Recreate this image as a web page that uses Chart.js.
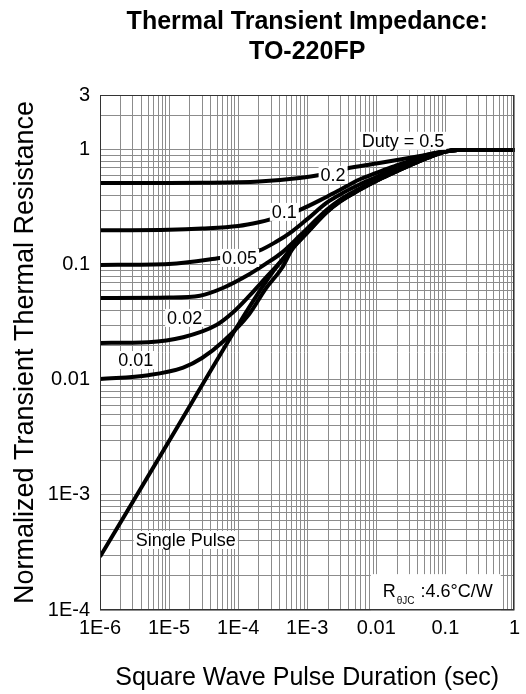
<!DOCTYPE html>
<html>
<head>
<meta charset="utf-8">
<title>Thermal Transient Impedance: TO-220FP</title>
<script src="https://cdn.jsdelivr.net/npm/chart.js@4/dist/chart.umd.min.js"></script>
<style>
  html, body { margin: 0; padding: 0; background: #fff; }
  canvas { display: block; }
</style>
</head>
<body>
<canvas id="zth" width="526" height="694"></canvas>
<script>
// Normalized transient thermal resistance vs square-wave pulse duration (log-log)

// Tick labels on each axis
const xTickValues = [1e-6, 1e-5, 1e-4, 1e-3, 1e-2, 1e-1, 1];
const xTickLabels = ['1E-6', '1E-5', '1E-4', '1E-3', '0.01', '0.1', '1'];
const yTickValues = [1e-4, 1e-3, 1e-2, 1e-1, 1, 3];
const yTickLabels = ['1E-4', '1E-3', '0.01', '0.1', '1', '3'];

// Curves: pulse duration (sec) and normalized Zth for each duty cycle
const singleT = [1e-6, 1e-5, 1e-4, 2e-4, 3e-4, 4.5e-4, 6e-4, 1e-3, 1.9e-3, 3e-3, 5.6e-3, 1e-2, 1.7e-2, 3e-2, 5e-2, 0.1, 0.15, 1];
const singleZ = [2.9e-4, 2.95e-3, 0.03, 0.058, 0.083, 0.113, 0.138, 0.19, 0.285, 0.355, 0.445, 0.537, 0.625, 0.73, 0.83, 0.965, 1.0, 1.0];

const duty001T = [1e-6, 5e-6, 1.6e-5, 3e-5, 6e-5, 1.45e-4, 2.5e-4, 4.3e-4, 6e-4, 1e-3, 1.9e-3, 3e-3, 5.6e-3, 1e-2, 1.7e-2, 3e-2, 5e-2, 0.1, 0.15, 1];
const duty001Z = [0.0102, 0.011, 0.0128, 0.0155, 0.0215, 0.0375, 0.062, 0.094, 0.135, 0.192, 0.287, 0.358, 0.447, 0.539, 0.627, 0.73, 0.832, 0.965, 1.0, 1.0];

const duty002T = [1e-6, 5e-6, 1.6e-5, 4.85e-5, 8.3e-5, 1.45e-4, 2.5e-4, 4.3e-4, 6e-4, 1e-3, 1.9e-3, 3e-3, 5.6e-3, 1e-2, 1.7e-2, 3e-2, 5e-2, 0.1, 0.15, 1];
const duty002Z = [0.021, 0.0213, 0.0235, 0.030, 0.0383, 0.0537, 0.077, 0.110, 0.143, 0.197, 0.29, 0.36, 0.45, 0.54, 0.63, 0.732, 0.835, 0.966, 1.0, 1.0];

const duty005T = [1e-6, 1e-5, 2.8e-5, 6e-5, 1.45e-4, 2.5e-4, 4.3e-4, 8e-4, 1.9e-3, 3e-3, 5.6e-3, 1e-2, 1.7e-2, 3e-2, 5e-2, 0.1, 0.15, 1];
const duty005Z = [0.0516, 0.052, 0.054, 0.063, 0.083, 0.102, 0.128, 0.182, 0.3, 0.37, 0.458, 0.548, 0.637, 0.74, 0.84, 0.968, 1.0, 1.0];

const duty01T = [1e-6, 1e-5, 5.4e-5, 1e-4, 2e-4, 3.5e-4, 6e-4, 1e-3, 1.9e-3, 3e-3, 5.6e-3, 1e-2, 1.7e-2, 3e-2, 5e-2, 0.1, 0.15, 1];
const duty01Z = [0.1, 0.102, 0.115, 0.122, 0.133, 0.158, 0.195, 0.25, 0.346, 0.41, 0.497, 0.58, 0.67, 0.76, 0.865, 0.97, 1.0, 1.0];

const duty02T = [1e-6, 1e-5, 3e-5, 1e-4, 2e-4, 3e-4, 7.7e-4, 1.9e-3, 3e-3, 5.6e-3, 1e-2, 1.7e-2, 3e-2, 5.2e-2, 0.1, 0.15, 1];
const duty02Z = [0.2, 0.202, 0.207, 0.218, 0.235, 0.25, 0.3, 0.39, 0.45, 0.55, 0.63, 0.71, 0.8, 0.9, 0.975, 1.0, 1.0];

const duty05T = [1e-6, 1e-5, 3e-5, 1e-4, 2e-4, 7.7e-4, 1.5e-3, 3.7e-3, 1e-2, 2.1e-2, 5e-2, 0.1, 0.15, 1];
const duty05Z = [0.515, 0.516, 0.518, 0.522, 0.53, 0.57, 0.605, 0.69, 0.76, 0.82, 0.9, 0.975, 1.0, 1.0];

// In-plot curve labels, anchored in data units (sec, normalized Zth)
const curveLabels = [
  { text: 'Duty = 0.5', t: 0.0243, z: 1.2 },
  { text: '0.2', t: 2.37e-3, z: 0.607 },
  { text: '0.1', t: 4.66e-4, z: 0.289 },
  { text: '0.05', t: 1.05e-4, z: 0.115 },
  { text: '0.02', t: 1.68e-5, z: 0.0346 },
  { text: '0.01', t: 3.3e-6, z: 0.0149 },
  { text: 'Single Pulse', t: 1.74e-5, z: 4.06e-4 }
];
// Junction-to-case resistance note
const rthNote = { main: 'R', sub: '\u03B8JC', rest: ' :4.6\u00B0C/W', t: 0.0776, z: 1.43e-4 };

const FONT = '"Liberation Sans", Arial, Helvetica, sans-serif';
Chart.defaults.font.family = FONT;
Chart.defaults.color = '#000';

function toPoints(ts, zs) { return ts.map((t, i) => ({ x: t, y: zs[i] })); }

// Grid lines at 1..9 of every decade
function decadeGrid(minExp, maxExp, extra) {
  const v = [];
  for (let e = minExp; e < maxExp; e++) {
    for (let m = 1; m <= 9; m++) v.push(m * Math.pow(10, e));
  }
  return v.concat(extra);
}
function labelFor(values, labels, v) {
  for (let i = 0; i < values.length; i++) {
    if (Math.abs(Math.log10(v) - Math.log10(values[i])) < 1e-6) return labels[i];
  }
  return '';
}

const series = [
  [singleT, singleZ], [duty001T, duty001Z], [duty002T, duty002Z],
  [duty005T, duty005Z], [duty01T, duty01Z], [duty02T, duty02Z], [duty05T, duty05Z]
];

const labelPlugin = {
  id: 'curveLabelPlugin',
  afterDatasetsDraw(chart) {
    const { ctx, scales: { x, y } } = chart;
    ctx.save();
    ctx.font = '18px ' + FONT;
    ctx.textAlign = 'center';
    ctx.textBaseline = 'middle';
    curveLabels.forEach(l => {
      const px = x.getPixelForValue(l.t);
      const py = y.getPixelForValue(l.z);
      const w = ctx.measureText(l.text).width;
      ctx.fillStyle = '#fff';
      ctx.fillRect(px - w / 2 - 2, py - 9, w + 4, 18);
      ctx.fillStyle = '#000';
      ctx.fillText(l.text, px, py + 1);
    });

    // R(theta JC) note with subscript
    const cx = x.getPixelForValue(rthNote.t);
    const cy = y.getPixelForValue(rthNote.z);
    ctx.textAlign = 'left';
    ctx.font = '18px ' + FONT;
    const wMain = ctx.measureText(rthNote.main).width;
    const wRest = ctx.measureText(rthNote.rest).width;
    ctx.font = '10px ' + FONT;
    const wSub = ctx.measureText(rthNote.sub).width;
    const total = wMain + wSub + 2 + wRest;
    const left = cx - total / 2;
    ctx.fillStyle = '#fff';
    ctx.fillRect(left - 12, cy - 18, total + 20, 36);
    ctx.fillStyle = '#000';
    ctx.font = '18px ' + FONT;
    ctx.fillText(rthNote.main, left, cy);
    ctx.font = '10px ' + FONT;
    ctx.fillText(rthNote.sub, left + wMain + 1, cy + 9);
    ctx.font = '18px ' + FONT;
    ctx.fillText(rthNote.rest, left + wMain + wSub + 2, cy);
    ctx.restore();
  },
  afterDraw(chart) {
    const { ctx, chartArea: a } = chart;
    ctx.save();
    ctx.strokeStyle = '#333';
    ctx.lineWidth = 1;
    ctx.strokeRect(Math.round(a.left) + 0.5, Math.round(a.top) + 0.5,
      Math.round(a.right - a.left) - 1, Math.round(a.bottom - a.top) - 1);
    ctx.restore();
  }
};

new Chart(document.getElementById('zth'), {
  type: 'line',
  data: {
    datasets: series.map(([t, z]) => ({
      data: toPoints(t, z),
      borderColor: '#000',
      borderWidth: 4,
      pointRadius: 0,
      fill: false,
      cubicInterpolationMode: 'monotone'
    }))
  },
  options: {
    responsive: false,
    animation: false,
    devicePixelRatio: 1,
    layout: { padding: { left: 0, right: 10, top: 0, bottom: 0 } },
    plugins: {
      legend: { display: false },
      tooltip: { enabled: false },
      title: {
        display: true,
        text: ['Thermal Transient Impedance:', 'TO-220FP'],
        fullSize: false,
        color: '#000',
        font: { size: 25, weight: 'bold', lineHeight: 1.2 },
        padding: { top: 7, bottom: 28 }
      }
    },
    scales: {
      x: {
        type: 'logarithmic',
        min: 1e-6,
        max: 1,
        afterBuildTicks: s => { s.ticks = decadeGrid(-6, 0, [1]).map(v => ({ value: v })); },
        afterFit: s => { s.height = 84; },
        ticks: {
          autoSkip: false,
          maxRotation: 0,
          padding: 6,
          font: { size: 20 },
          color: '#000',
          callback: v => labelFor(xTickValues, xTickLabels, v)
        },
        grid: { color: '#8c8c8c', lineWidth: 1, drawTicks: false },
        border: { display: false },
        title: {
          display: true,
          text: 'Square Wave Pulse Duration (sec)',
          font: { size: 25 },
          color: '#000',
          padding: { top: 0, bottom: 1 }
        }
      },
      y: {
        type: 'logarithmic',
        min: 1e-4,
        max: 3,
        afterBuildTicks: s => { s.ticks = decadeGrid(-4, 0, [1, 2, 3]).map(v => ({ value: v })); },
        afterFit: s => { s.width = 100; },
        ticks: {
          autoSkip: false,
          padding: 10,
          font: { size: 20 },
          color: '#000',
          callback: v => labelFor(yTickValues, yTickLabels, v)
        },
        grid: { color: '#8c8c8c', lineWidth: 1, drawTicks: false },
        border: { display: false },
        title: {
          display: true,
          text: 'Normalized Transient Thermal Resistance',
          font: { size: 27 },
          color: '#000',
          padding: { top: 9, bottom: 0 }
        }
      }
    }
  },
  plugins: [labelPlugin]
});
</script>
</body>
</html>
